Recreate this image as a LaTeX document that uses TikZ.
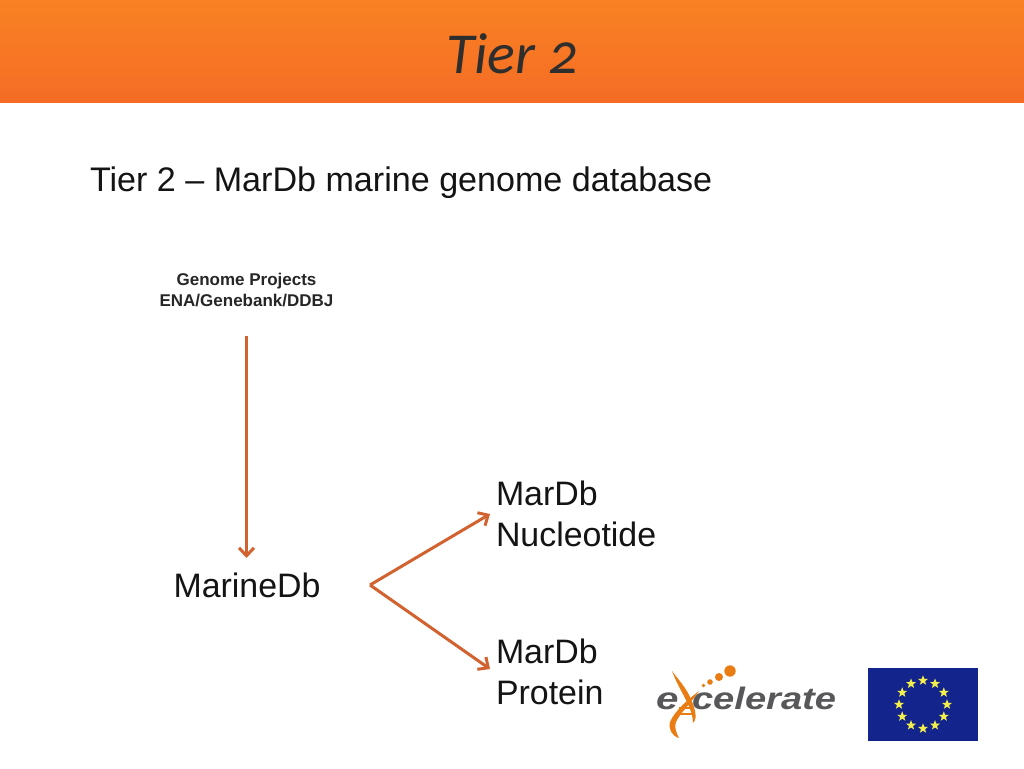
\documentclass[tikz,border=0pt]{standalone}
\usepackage{fontspec}
\setmainfont{Liberation Sans}
\newfontfamily\titlefont[Numbers=OldStyle]{Carlito}
\newfontfamily\logofont{Liberation Sans}
\usetikzlibrary{arrows.meta,shapes.geometric}
\definecolor{bandtop}{HTML}{F98223}
\definecolor{bandbot}{HTML}{F56C25}
\definecolor{arrowcol}{HTML}{D2622F}
\definecolor{eublue}{HTML}{13248C}
\definecolor{eustar}{HTML}{F2EE4C}
\definecolor{logoorange}{HTML}{E97D14}
\definecolor{logogrey}{HTML}{58585A}
\tikzset{
  x=1pt,y=-1pt,
  every node/.style={inner sep=0pt,outer sep=0pt},
  bigtext/.style={font=\fontsize{33.9}{41}\selectfont,align=left,text=black!92},
  smalltext/.style={font=\fontsize{17}{20.5}\selectfont\bfseries,align=center,text=black!85},
  flow/.style={draw=arrowcol,line width=3pt,-{Straight Barb[length=8pt,width=15pt,line width=3pt]}},
  eustarnode/.style={star,star points=5,star point ratio=2.4,minimum size=10.5pt,fill=eustar},
  logotext/.style={font=\logofont\bfseries\itshape\fontsize{31}{31}\selectfont,text=logogrey},
}
\begin{document}
\begin{tikzpicture}
\useasboundingbox (0,0) rectangle (1024,768);
\fill[white] (0,0) rectangle (1024,768);
\shade[top color=bandtop,bottom color=bandbot] (0,0) rectangle (1024,102.5);
\node[anchor=base,font=\titlefont\itshape\fontsize{58}{60}\selectfont,text=black!82] (title) at (512,73) {Tier 2};
\node[anchor=base west,font=\fontsize{34.1}{40}\selectfont,text=black!92] (sub) at (90,191) {Tier 2 – MarDb marine genome database};
\node[smalltext] (genome) at (246.5,290) {Genome Projects\\ENA/Genebank/DDBJ};
\node[bigtext] (marine) at (247,585.5) {MarineDb};
\node[bigtext,anchor=west] (nuc) at (496,514) {MarDb\\Nucleotide};
\node[bigtext,anchor=west] (prot) at (496,672) {MarDb\\Protein};
\coordinate (gout) at (246.5,336);
\coordinate (min) at (246.5,558);
\coordinate (fork) at (370,585);
\coordinate (nucin) at (490,514);
\coordinate (protin) at (490,669);
\draw[flow] (gout) -- (min);
\draw[flow] (fork) -- (nucin);
\draw[flow] (fork) -- (protin);
% excelerate logo: grey lettering first, orange helix over it
\node[logotext,anchor=base west,xscale=1.3] (logoe) at (656,709) {e};
\node[logotext,anchor=base west,xscale=1.23] (logot) at (692,709) {celerate};
\fill[logoorange] (730,671) circle (5.7);
\fill[logoorange] (719,677) circle (4);
\fill[logoorange] (710,682) circle (2.8);
\fill[logoorange] (703.5,685.5) circle (1.8);
\fill[logoorange] (672,671) .. controls (680,682) and (690,691) .. (695,711) .. controls (696,716) and (696,720) .. (693,723) .. controls (693,716) and (690,708) .. (686,700) .. controls (682,692) and (676,682) .. (672,671) -- cycle;
\fill[logoorange] (699,691) .. controls (690,698) and (675,710) .. (670,722) .. controls (668,729) and (672,736) .. (679,738) .. controls (676,732) and (674,727) .. (676,722) .. controls (680,713) and (692,702) .. (699,691) -- cycle;
\draw[logoorange,line width=1.2pt] (679,708) -- (690,708) (676,714) -- (692,714);
% EU flag
\fill[eublue] (868,668) rectangle (978,741);
\foreach \a in {0,30,...,330}{
  \node[eustarnode] (s\a) at ({923+24*cos(\a)},{704.5+24*sin(\a)}) {};
}
\end{tikzpicture}
\end{document}
